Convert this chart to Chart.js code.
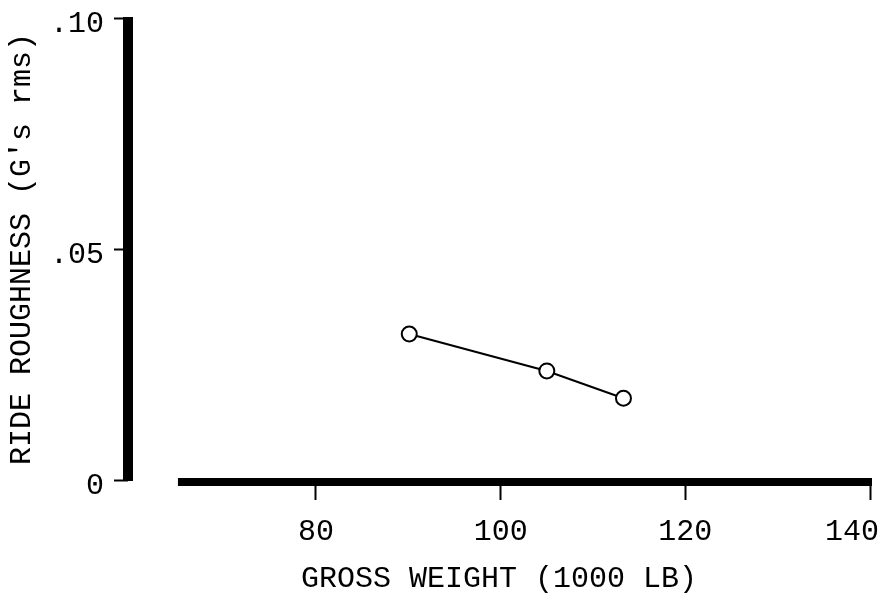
<!DOCTYPE html>
<html>
<head>
<meta charset="utf-8">
<script src="https://cdn.jsdelivr.net/npm/chart.js@4/dist/chart.umd.min.js"></script>
<style>
  html, body { margin: 0; padding: 0; background: #fff; }
  canvas { display: block; }
</style>
</head>
<body>
<canvas id="ride" width="884" height="596"></canvas>
<script>
// gross weight (1000 lb) vs ride roughness (G's rms)
var weights = [90.1, 105.0, 113.3];
var roughness = [0.0316, 0.0236, 0.0177];

var xTicks = [80, 100, 120, 140];
var yTicks = [0, 0.05, 0.10];
var yTickLabels = ['0', '.05', '.10'];

var mono = 'Liberation Mono, Courier New, monospace';

// heavy axis lines: vertical one on the left edge, base line starts a little right of it
var axisLines = {
  id: 'axisLines',
  beforeDatasetsDraw: function (chart) {
    var x = chart.scales.x, y = chart.scales.y;
    var ctx = chart.ctx;
    var yy = y.getPixelForValue(0) + 2;
    ctx.save();
    ctx.strokeStyle = '#000';
    ctx.lineCap = 'butt';

    ctx.lineWidth = 10;
    ctx.beginPath();
    ctx.moveTo(x.left, y.top - 1);
    ctx.lineTo(x.left, y.bottom + 1);
    ctx.stroke();

    ctx.lineWidth = 8;
    ctx.beginPath();
    ctx.moveTo(x.getPixelForValue(65.05), yy);
    ctx.lineTo(x.right + 2, yy);
    ctx.stroke();
    ctx.restore();
  }
};

new Chart(document.getElementById('ride'), {
  type: 'scatter',
  data: {
    datasets: [{
      data: weights.map(function (w, i) { return { x: w, y: roughness[i] }; }),
      showLine: true,
      borderColor: '#000',
      borderWidth: 2,
      pointRadius: 7.5,
      pointBorderWidth: 2,
      pointBorderColor: '#000',
      pointBackgroundColor: '#fff'
    }, {
      // little centre dot inside each circle
      data: weights.map(function (w, i) { return { x: w, y: roughness[i] }; }),
      showLine: false,
      pointRadius: 1,
      pointBorderWidth: 0,
      pointBackgroundColor: '#000'
    }]
  },
  options: {
    responsive: false,
    animation: false,
    devicePixelRatio: 1,
    layout: { padding: { top: 18, right: 14, bottom: 0, left: 0 } },
    plugins: { legend: { display: false }, tooltip: { enabled: false } },
    scales: {
      x: {
        type: 'linear',
        min: 59.64,
        max: 140,
        afterBuildTicks: function (s) { s.ticks = xTicks.map(function (v) { return { value: v }; }); },
        afterFit: function (s) { s.height = 116; s.paddingLeft = 0; s.paddingRight = 0; },
        border: { display: false },
        grid: { drawOnChartArea: false, drawTicks: true, tickLength: 20, tickWidth: 2, tickColor: '#000' },
        ticks: {
          color: '#000',
          padding: 14,
          maxRotation: 0,
          font: { family: mono, size: 30, lineHeight: 1.2 },
          callback: function (v) {
            var s = String(v);
            // last label sits against the edge, nudge it left
            return v === xTicks[xTicks.length - 1] ? s + '  ' : s;
          }
        },
        title: {
          display: true,
          text: 'GROSS WEIGHT (1000 LB)',
          color: '#000',
          padding: { top: 0, bottom: 0 },
          font: { family: mono, size: 30, lineHeight: 1.1 }
        }
      },
      y: {
        min: 0,
        max: 0.10,
        afterBuildTicks: function (s) { s.ticks = yTicks.map(function (v) { return { value: v }; }); },
        afterFit: function (s) { s.width = 128; s.paddingTop = 0; s.paddingBottom = 0; },
        border: { display: false },
        grid: { drawOnChartArea: false, drawTicks: true, tickLength: 14, tickWidth: 2, tickColor: '#000' },
        ticks: {
          color: '#000',
          padding: 10,
          labelOffset: 6,
          font: { family: mono, size: 30, lineHeight: 1.2 },
          callback: function (v) { return yTickLabels[yTicks.indexOf(v)]; }
        },
        title: {
          display: true,
          text: "RIDE ROUGHNESS (G's rms)",
          color: '#000',
          padding: { top: 6, bottom: 0 },
          font: { family: mono, size: 30, lineHeight: 1.1 }
        }
      }
    }
  },
  plugins: [axisLines]
});
</script>
</body>
</html>
